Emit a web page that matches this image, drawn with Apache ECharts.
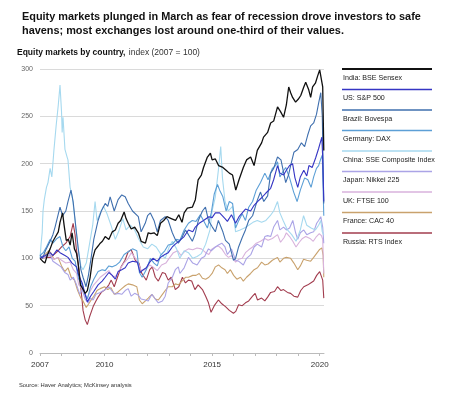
<!DOCTYPE html>
<html>
<head>
<meta charset="utf-8">
<script src="https://cdn.jsdelivr.net/npm/echarts@6/dist/echarts.min.js"></script>
<style>
  html, body { margin: 0; padding: 0; background: #fff; }
  #chart { width: 450px; height: 396px; }
</style>
</head>
<body>
<div id="chart"></div>
<script>
// index values (2007 = 100) as [year, value]
var india = [[2007.00,100],[2007.12,97],[2007.23,95],[2007.35,104],[2007.47,110],[2007.6,118],[2007.7,122],[2007.85,128],[2007.93,138],[2008.05,148],[2008.12,135],[2008.22,119],[2008.32,120],[2008.4,114],[2008.49,127],[2008.6,110],[2008.7,105],[2008.77,95],[2008.88,72],[2008.96,69],[2009.1,63],[2009.2,66],[2009.33,80],[2009.45,100],[2009.56,109],[2009.7,113],[2009.8,116],[2009.9,118],[2010.03,123],[2010.2,120],[2010.36,128],[2010.5,130],[2010.63,137],[2010.75,140],[2010.91,149],[2011.0,142],[2011.1,137],[2011.24,131],[2011.4,133],[2011.57,127],[2011.7,118],[2011.9,116],[2012.03,127],[2012.15,126],[2012.3,127],[2012.45,124],[2012.6,137],[2012.75,140],[2012.9,144],[2013.1,142],[2013.3,140],[2013.45,146],[2013.6,138],[2013.7,148],[2013.85,153],[2014.08,154],[2014.22,162],[2014.35,183],[2014.5,188],[2014.6,196],[2014.78,207],[2014.92,211],[2015.0,204],[2015.15,205],[2015.3,198],[2015.5,196],[2015.65,193],[2015.8,190],[2015.95,188],[2016.1,172],[2016.25,183],[2016.45,196],[2016.6,204],[2016.79,207],[2016.95,198],[2017.1,214],[2017.3,222],[2017.39,228],[2017.58,233],[2017.72,243],[2017.86,245],[2018.04,260],[2018.18,255],[2018.32,249],[2018.45,262],[2018.56,281],[2018.65,275],[2018.74,270],[2018.88,265],[2019.0,268],[2019.12,272],[2019.26,281],[2019.35,286],[2019.49,278],[2019.58,270],[2019.67,281],[2019.8,285],[2019.91,293],[2020.0,299],[2020.07,297],[2020.14,281],[2020.19,214]];
var us = [[2007.0,100],[2007.25,103],[2007.47,106],[2007.6,103],[2007.79,109],[2007.93,106],[2008.16,103],[2008.3,101],[2008.49,95],[2008.7,91],[2008.8,82],[2008.96,74],[2009.1,62],[2009.2,54],[2009.35,60],[2009.5,65],[2009.7,72],[2009.89,76],[2010.03,80],[2010.2,85],[2010.36,82],[2010.5,78],[2010.63,86],[2010.8,88],[2010.96,90],[2011.1,95],[2011.3,97],[2011.52,96],[2011.65,85],[2011.8,88],[2011.94,90],[2012.1,96],[2012.25,100],[2012.45,97],[2012.6,101],[2012.8,104],[2012.96,106],[2013.15,112],[2013.29,115],[2013.5,119],[2013.7,123],[2013.9,130],[2014.1,128],[2014.22,133],[2014.4,137],[2014.6,140],[2014.69,139],[2014.85,144],[2015.0,143],[2015.15,148],[2015.35,148],[2015.6,142],[2015.71,139],[2015.9,146],[2016.09,137],[2016.25,144],[2016.4,148],[2016.55,152],[2016.79,150],[2016.95,156],[2017.11,160],[2017.3,164],[2017.5,169],[2017.72,174],[2017.86,183],[2018.04,198],[2018.15,190],[2018.32,188],[2018.45,193],[2018.6,198],[2018.74,200],[2018.85,185],[2018.98,175],[2019.1,186],[2019.26,193],[2019.4,187],[2019.5,198],[2019.65,196],[2019.81,206],[2019.95,216],[2020.05,224],[2020.1,228],[2020.14,206],[2020.19,160]];
var brazil = [[2007.0,103],[2007.12,100],[2007.25,108],[2007.47,118],[2007.6,125],[2007.7,133],[2007.84,146],[2007.93,154],[2008.05,145],[2008.2,150],[2008.3,160],[2008.44,172],[2008.54,160],[2008.68,130],[2008.77,112],[2008.9,88],[2009.0,80],[2009.14,70],[2009.25,82],[2009.38,101],[2009.5,120],[2009.7,140],[2009.85,150],[2010.03,158],[2010.15,155],[2010.26,165],[2010.45,150],[2010.63,162],[2010.8,167],[2010.96,165],[2011.1,158],[2011.3,150],[2011.57,144],[2011.7,128],[2011.89,137],[2012.0,145],[2012.13,148],[2012.3,140],[2012.45,128],[2012.6,140],[2012.82,144],[2012.96,140],[2013.15,127],[2013.29,120],[2013.43,116],[2013.6,122],[2013.76,130],[2013.9,125],[2014.08,118],[2014.2,125],[2014.36,140],[2014.55,150],[2014.69,154],[2014.83,140],[2015.01,133],[2015.15,128],[2015.29,140],[2015.5,128],[2015.62,119],[2015.8,115],[2015.99,98],[2016.09,100],[2016.23,112],[2016.4,122],[2016.55,130],[2016.7,140],[2016.88,145],[2017.11,162],[2017.25,170],[2017.4,160],[2017.58,166],[2017.72,190],[2017.86,195],[2018.04,207],[2018.2,204],[2018.42,180],[2018.55,188],[2018.65,198],[2018.8,212],[2018.98,215],[2019.15,222],[2019.3,218],[2019.44,230],[2019.58,240],[2019.72,243],[2019.85,252],[2019.95,264],[2020.05,275],[2020.12,250],[2020.19,158]];
var germany = [[2007.0,103],[2007.15,106],[2007.3,112],[2007.47,120],[2007.6,116],[2007.79,121],[2007.93,123],[2008.07,112],[2008.2,108],[2008.35,112],[2008.5,100],[2008.63,97],[2008.8,78],[2008.96,72],[2009.1,62],[2009.2,57],[2009.35,70],[2009.5,78],[2009.7,86],[2009.89,88],[2010.03,87],[2010.2,92],[2010.36,91],[2010.55,93],[2010.7,96],[2010.91,104],[2011.1,107],[2011.3,110],[2011.5,108],[2011.62,85],[2011.75,80],[2011.94,88],[2012.13,100],[2012.3,95],[2012.45,92],[2012.6,103],[2012.8,108],[2012.96,114],[2013.15,115],[2013.35,120],[2013.5,119],[2013.7,130],[2013.9,137],[2014.08,140],[2014.25,139],[2014.45,146],[2014.6,140],[2014.78,132],[2014.96,148],[2015.1,168],[2015.25,178],[2015.35,172],[2015.5,165],[2015.65,150],[2015.8,160],[2015.95,158],[2016.09,132],[2016.2,138],[2016.4,147],[2016.55,140],[2016.7,154],[2016.88,160],[2017.05,172],[2017.25,180],[2017.45,190],[2017.6,183],[2017.8,195],[2017.95,198],[2018.04,202],[2018.15,186],[2018.3,192],[2018.42,196],[2018.6,185],[2018.79,170],[2018.95,160],[2019.1,172],[2019.3,185],[2019.45,183],[2019.6,175],[2019.72,186],[2019.85,195],[2019.95,198],[2020.05,205],[2020.12,209],[2020.19,145]];
var china = [[2007.0,100],[2007.05,115],[2007.1,127],[2007.14,150],[2007.2,162],[2007.3,175],[2007.37,180],[2007.47,195],[2007.55,186],[2007.65,215],[2007.75,240],[2007.85,262],[2007.93,283],[2008.0,255],[2008.03,233],[2008.07,249],[2008.16,215],[2008.26,207],[2008.3,204],[2008.4,175],[2008.5,165],[2008.63,140],[2008.77,110],[2008.9,92],[2009.0,88],[2009.15,95],[2009.3,115],[2009.45,135],[2009.56,160],[2009.65,140],[2009.8,148],[2009.95,155],[2010.1,148],[2010.3,135],[2010.5,120],[2010.65,128],[2010.85,142],[2011.0,130],[2011.2,135],[2011.4,130],[2011.6,120],[2011.8,112],[2012.0,110],[2012.2,115],[2012.4,112],[2012.6,105],[2012.82,100],[2013.0,112],[2013.15,118],[2013.35,110],[2013.5,100],[2013.7,108],[2013.9,106],[2014.1,100],[2014.3,102],[2014.5,105],[2014.7,115],[2014.9,130],[2015.0,150],[2015.15,165],[2015.3,195],[2015.4,218],[2015.48,185],[2015.6,160],[2015.75,150],[2015.95,155],[2016.09,128],[2016.3,130],[2016.5,132],[2016.7,135],[2016.9,138],[2017.1,140],[2017.3,138],[2017.5,140],[2017.7,145],[2017.86,150],[2018.04,160],[2018.15,148],[2018.3,140],[2018.5,130],[2018.7,125],[2018.9,118],[2019.1,130],[2019.25,145],[2019.4,135],[2019.6,132],[2019.8,130],[2019.95,135],[2020.05,140],[2020.12,128],[2020.19,125]];
var japan = [[2007.0,101],[2007.15,103],[2007.3,102],[2007.47,104],[2007.6,97],[2007.79,94],[2007.98,91],[2008.15,85],[2008.3,83],[2008.4,77],[2008.55,80],[2008.7,72],[2008.85,62],[2008.96,67],[2009.1,57],[2009.24,53],[2009.35,58],[2009.47,56],[2009.6,62],[2009.8,64],[2010.03,67],[2010.2,70],[2010.36,65],[2010.5,62],[2010.63,63],[2010.8,62],[2010.96,66],[2011.1,68],[2011.24,60],[2011.4,63],[2011.57,61],[2011.7,57],[2011.89,56],[2012.03,55],[2012.2,62],[2012.36,57],[2012.5,53],[2012.69,55],[2012.82,60],[2012.96,74],[2013.15,80],[2013.29,88],[2013.43,91],[2013.5,84],[2013.7,90],[2013.9,101],[2014.1,95],[2014.3,93],[2014.5,100],[2014.65,102],[2014.83,110],[2014.96,108],[2015.15,112],[2015.29,114],[2015.45,116],[2015.6,112],[2015.71,104],[2015.9,110],[2016.09,98],[2016.23,97],[2016.45,93],[2016.6,100],[2016.8,104],[2016.95,112],[2017.1,115],[2017.3,112],[2017.45,123],[2017.58,124],[2017.72,123],[2017.86,133],[2018.04,140],[2018.15,130],[2018.32,133],[2018.45,130],[2018.6,132],[2018.75,140],[2018.88,127],[2018.98,120],[2019.1,127],[2019.26,130],[2019.4,125],[2019.58,127],[2019.72,128],[2019.86,137],[2019.95,140],[2020.05,144],[2020.14,133],[2020.19,116]];
var uk = [[2007.0,100],[2007.2,101],[2007.47,103],[2007.65,99],[2007.84,101],[2008.0,98],[2008.2,95],[2008.4,96],[2008.55,88],[2008.7,84],[2008.8,72],[2008.96,68],[2009.1,60],[2009.2,58],[2009.35,66],[2009.5,72],[2009.65,76],[2009.8,80],[2010.03,84],[2010.2,87],[2010.4,80],[2010.55,82],[2010.7,88],[2010.9,95],[2011.1,100],[2011.24,106],[2011.4,101],[2011.57,95],[2011.7,87],[2011.89,88],[2012.1,93],[2012.3,90],[2012.45,87],[2012.65,93],[2012.85,95],[2013.0,100],[2013.2,106],[2013.4,108],[2013.55,103],[2013.75,108],[2013.9,110],[2014.1,109],[2014.3,111],[2014.5,110],[2014.7,106],[2014.85,104],[2015.0,110],[2015.15,112],[2015.29,113],[2015.45,110],[2015.62,104],[2015.76,101],[2015.9,103],[2016.09,96],[2016.23,99],[2016.4,100],[2016.55,106],[2016.7,109],[2016.88,112],[2017.05,116],[2017.25,118],[2017.45,121],[2017.6,119],[2017.8,121],[2018.04,125],[2018.18,117],[2018.35,122],[2018.45,127],[2018.6,123],[2018.75,118],[2018.9,112],[2019.05,117],[2019.2,121],[2019.35,123],[2019.55,121],[2019.7,118],[2019.85,123],[2019.98,126],[2020.08,124],[2020.14,120],[2020.19,84]];
var france = [[2007.0,100],[2007.2,103],[2007.4,108],[2007.5,106],[2007.65,99],[2007.84,101],[2008.0,92],[2008.15,86],[2008.3,90],[2008.45,80],[2008.6,77],[2008.75,66],[2008.9,58],[2009.0,55],[2009.15,48],[2009.24,47],[2009.35,55],[2009.5,60],[2009.65,66],[2009.8,68],[2010.0,70],[2010.15,67],[2010.3,69],[2010.45,62],[2010.6,64],[2010.8,68],[2010.96,71],[2011.1,73],[2011.3,72],[2011.5,70],[2011.62,56],[2011.75,52],[2011.9,55],[2012.03,58],[2012.2,62],[2012.36,57],[2012.5,56],[2012.69,62],[2012.82,66],[2012.96,70],[2013.15,70],[2013.29,73],[2013.43,72],[2013.6,76],[2013.76,80],[2013.9,80],[2014.1,82],[2014.25,82],[2014.4,84],[2014.55,79],[2014.7,78],[2014.85,80],[2015.0,84],[2015.15,91],[2015.3,93],[2015.45,90],[2015.6,88],[2015.71,84],[2015.85,88],[2016.0,82],[2016.15,78],[2016.32,80],[2016.45,76],[2016.6,80],[2016.79,84],[2016.95,88],[2017.11,90],[2017.3,96],[2017.45,93],[2017.6,94],[2017.8,98],[2018.04,101],[2018.15,96],[2018.32,100],[2018.45,101],[2018.65,100],[2018.8,95],[2018.98,88],[2019.1,92],[2019.25,99],[2019.4,98],[2019.58,97],[2019.72,101],[2019.85,105],[2019.98,109],[2020.1,111],[2020.16,103],[2020.19,80]];
var russia = [[2007.0,100],[2007.25,101],[2007.5,101],[2007.7,105],[2007.84,108],[2008.0,112],[2008.2,116],[2008.4,123],[2008.54,137],[2008.63,125],[2008.68,112],[2008.8,90],[2008.86,77],[2008.96,55],[2009.0,45],[2009.1,35],[2009.2,30],[2009.3,38],[2009.47,49],[2009.6,55],[2009.7,59],[2009.85,64],[2010.03,67],[2010.2,72],[2010.31,77],[2010.45,70],[2010.6,80],[2010.77,91],[2010.95,98],[2011.1,107],[2011.24,109],[2011.43,98],[2011.6,95],[2011.71,85],[2011.85,80],[2011.94,77],[2012.1,88],[2012.22,91],[2012.36,80],[2012.5,76],[2012.69,85],[2012.82,84],[2012.96,77],[2013.1,80],[2013.29,67],[2013.45,70],[2013.62,80],[2013.76,74],[2013.9,77],[2014.05,76],[2014.2,67],[2014.35,72],[2014.55,67],[2014.7,60],[2014.83,53],[2014.95,43],[2015.1,50],[2015.29,56],[2015.45,52],[2015.62,49],[2015.8,45],[2015.99,42],[2016.1,44],[2016.23,51],[2016.4,50],[2016.55,53],[2016.7,55],[2016.88,60],[2017.0,63],[2017.11,56],[2017.3,58],[2017.45,55],[2017.58,59],[2017.72,64],[2017.9,65],[2018.04,70],[2018.2,66],[2018.32,67],[2018.5,64],[2018.65,63],[2018.8,60],[2018.98,59],[2019.12,66],[2019.26,70],[2019.45,72],[2019.58,74],[2019.72,76],[2019.86,82],[2020.0,86],[2020.08,84],[2020.14,77],[2020.19,58]];

var seriesNames = ['India: BSE Sensex', 'US: S&P 500', 'Brazil: Bovespa', 'Germany: DAX',
    'China: SSE Composite Index', 'Japan: Nikkei 225', 'UK: FTSE 100', 'France: CAC 40', 'Russia: RTS Index'];
var seriesData = [india, us, brazil, germany, china, japan, uk, france, russia];
var seriesColors = ['#111111', '#3535c4', '#3f6fae', '#5c9fd6', '#a6d9ef', '#aba4e6', '#d8b2dc', '#c9a26d', '#a23c4e'];
var labelYears = [2007, 2010, 2015, 2020];

var title = 'Equity markets plunged in March as fear of recession drove investors to safe\nhavens; most exchanges lost around one-third of their values.';
var font = 'Liberation Sans, Arial, sans-serif';

var chart = echarts.init(document.getElementById('chart'));

// legend: a rule above each name, built by hand
var legendItems = [];
seriesNames.forEach(function (name, i) {
    var y0 = 69 + i * 20.5;
    legendItems.push({
        type: 'line',
        shape: { x1: 342, y1: y0, x2: 432, y2: y0 },
        style: { stroke: seriesColors[i], lineWidth: i === 0 ? 2 : 1.3 }
    });
    legendItems.push({
        type: 'text', x: 343, y: y0 + 9,
        style: { text: name, fill: '#222', font: '7.1px ' + font, verticalAlign: 'middle' }
    });
});

var option = {
    animation: false,
    backgroundColor: '#fff',
    title: {
        text: title,
        left: 17, top: 5,
        textStyle: { fontFamily: font, fontSize: 10.9, fontWeight: 'bold', color: '#111', lineHeight: 14 }
    },
    grid: { left: 40, right: 126, top: 69, bottom: 43 },
    xAxis: {
        type: 'value',
        min: 2007, max: 2020.2, interval: 1,
        splitLine: { show: false },
        axisLine: { show: true, lineStyle: { color: '#bbb', width: 1 } },
        axisTick: { show: true, length: 3, lineStyle: { color: '#bbb' } },
        axisLabel: {
            margin: 8, color: '#333', fontFamily: font, fontSize: 8,
            showMaxLabel: false,
            formatter: function (v) { return labelYears.indexOf(v) >= 0 ? String(v) : ''; }
        }
    },
    yAxis: {
        type: 'value',
        min: 0, max: 300, interval: 50,
        axisLine: { show: false },
        axisTick: { show: false },
        splitLine: { lineStyle: { color: '#d0d0d0', width: 0.8 } },
        axisLabel: { margin: 7, color: '#666', fontFamily: font, fontSize: 7 }
    },
    series: seriesData.map(function (d, i) {
        return {
            name: seriesNames[i],
            type: 'line',
            data: d,
            showSymbol: false,
            z: 2 + (seriesData.length - i),
            lineStyle: { color: seriesColors[i], width: i === 0 ? 1.3 : 1.1 }
        };
    }),
    graphic: [
        {
            type: 'text', x: 17, y: 53,
            style: {
                text: '{b|Equity markets by country,} {r|index (2007 = 100)}',
                verticalAlign: 'middle',
                rich: {
                    b: { fontFamily: font, fontSize: 8.5, fontWeight: 'bold', fill: '#111' },
                    r: { fontFamily: font, fontSize: 8.5, fill: '#333' }
                }
            }
        },
        {
            type: 'text', x: 19, y: 385,
            style: { text: 'Source: Haver Analytics; McKinsey analysis', fill: '#333', font: '5.8px ' + font, verticalAlign: 'middle' }
        }
    ].concat(legendItems)
};

chart.setOption(option);
</script>
</body>
</html>
